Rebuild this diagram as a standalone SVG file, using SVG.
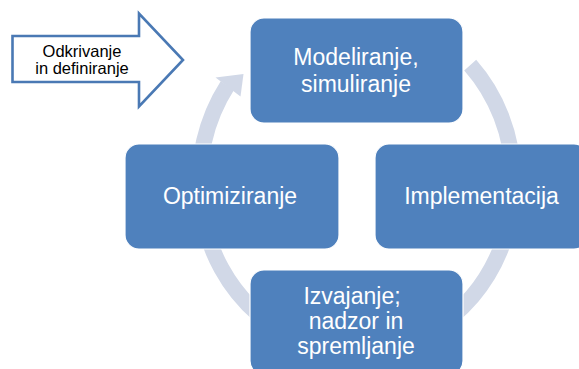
<svg xmlns="http://www.w3.org/2000/svg" width="579" height="369" viewBox="0 0 579 369">
  <style>
    .box { fill: #4f81bd; stroke: #ffffff; stroke-width: 1.2; }
    .label { font-family: "Liberation Sans", Arial, sans-serif; font-size: 23px; fill: #ffffff; text-anchor: middle; }
    .small { font-family: "Liberation Sans", Arial, sans-serif; font-size: 16.5px; fill: #000000; text-anchor: middle; }
    .ring { fill: none; stroke: #d1d8e7; stroke-width: 16; }
    .ringhead { fill: #d1d8e7; }
  </style>

  <rect width="579" height="369" fill="#ffffff"/>

  <!-- cycle arrow running clockwise behind the four steps -->
  <g id="connectors">
    <path class="ring" d="M 470.2 65.1 A 157 169.5 0 1 1 227.4 85.5"/>
    <polygon class="ringhead" points="215.5,77.5 243.5,74 240.5,96.5"/>
  </g>

  <!-- entry arrow -->
  <g id="node-odkrivanje">
    <polygon points="12.5,36 139,36 139,13.5 183,60 139,106.5 139,82 12.5,82" fill="#ffffff" stroke="#4a79b4" stroke-width="2.6" stroke-linejoin="miter"/>
    <text class="small" x="82" y="56.5">Odkrivanje</text>
    <text class="small" x="82" y="74">in definiranje</text>
  </g>

  <g id="node-modeliranje">
    <rect class="box" x="250" y="18" width="213" height="105" rx="14"/>
    <text class="label" x="356" y="65">Modeliranje,</text>
    <text class="label" x="356" y="91.5">simuliranje</text>
  </g>

  <g id="node-implementacija">
    <rect class="box" x="375" y="144" width="213" height="105" rx="14"/>
    <text class="label" x="481.5" y="204">Implementacija</text>
  </g>

  <g id="node-izvajanje">
    <rect class="box" x="250" y="270" width="213" height="105" rx="14"/>
    <text class="label" x="352" y="304">Izvajanje;</text>
    <text class="label" x="356" y="329">nadzor in</text>
    <text class="label" x="356" y="354">spremljanje</text>
  </g>

  <g id="node-optimiziranje">
    <rect class="box" x="125" y="144" width="214" height="105" rx="14"/>
    <text class="label" x="230" y="204">Optimiziranje</text>
  </g>
</svg>
